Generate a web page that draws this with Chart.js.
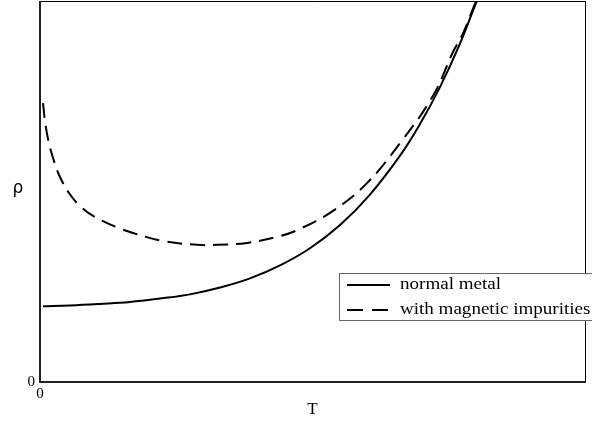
<!DOCTYPE html>
<html>
<head>
<meta charset="utf-8">
<script src="https://cdn.jsdelivr.net/npm/chart.js@4"></script>
<style>
    html, body { margin: 0; padding: 0; background: #fff; }
    #wrap { width: 592px; height: 426px; }
</style>
</head>
<body>
<div id="wrap"><canvas id="rhoChart" width="592" height="426"></canvas></div>
<script>
// values (T and rho in plot-relative units)
const tNormal = [0.0055, 0.0550, 0.1101, 0.1651, 0.2202, 0.2752, 0.3303, 0.3853, 0.4404, 0.4954, 0.5505, 0.6055, 0.6606, 0.6972, 0.7339, 0.7706, 0.8055, 0.8165];
const rhoNormal = [0.199, 0.201, 0.205, 0.210, 0.219, 0.230, 0.248, 0.272, 0.306, 0.351, 0.412, 0.492, 0.594, 0.677, 0.774, 0.888, 1.013, 1.040];

const tImpure = [0.0055, 0.0092, 0.0147, 0.0239, 0.0367, 0.0532, 0.0734, 0.1009, 0.1450, 0.1706, 0.2257, 0.2881, 0.3248, 0.3798, 0.4404, 0.4771, 0.5376, 0.6000, 0.6606, 0.7211, 0.7578, 0.7761, 0.8000, 0.8073];
const rhoImpure = [0.732, 0.685, 0.638, 0.588, 0.538, 0.496, 0.462, 0.433, 0.404, 0.391, 0.370, 0.360, 0.360, 0.365, 0.383, 0.402, 0.449, 0.522, 0.627, 0.751, 0.866, 0.915, 1.000, 1.024];

const seriesLabels = ['normal metal', 'with magnetic impurities'];
const xTicks = [0];
const yTicks = [0];
const xTitle = 'T';
const yTitle = 'ρ';

const serif = "'Liberation Serif', 'Times New Roman', serif";

function toPoints(xs, ys) {
    return xs.map((x, i) => ({ x: x, y: ys[i] }));
}

// keep the plot area flush with the canvas edges
function noPadding(scale) {
    scale.paddingTop = 0;
    scale.paddingBottom = 0;
    scale.paddingLeft = 0;
    scale.paddingRight = 0;
}

// frame, axis titles and legend box
const framePlugin = {
    id: 'frame',
    afterDatasetsDraw(chart) {
        const ctx = chart.ctx;
        const a = chart.chartArea;
        ctx.save();

        // box round the plot
        ctx.strokeStyle = '#000';
        ctx.lineWidth = 1;
        ctx.beginPath();
        ctx.moveTo(a.left, a.top + 0.5);
        ctx.lineTo(a.right + 0.5, a.top + 0.5);
        ctx.lineTo(a.right + 0.5, a.bottom);
        ctx.stroke();
        ctx.strokeStyle = '#222';
        ctx.lineWidth = 2;
        ctx.beginPath();
        ctx.moveTo(a.left, a.top);
        ctx.lineTo(a.left, a.bottom);
        ctx.lineTo(a.right + 1, a.bottom);
        ctx.stroke();

        // axis titles
        ctx.fillStyle = '#000';
        ctx.textAlign = 'center';
        ctx.textBaseline = 'middle';
        ctx.font = '17px ' + serif;
        ctx.fillText(xTitle, (a.left + a.right) / 2, 410);
        ctx.font = "17px 'DejaVu Sans', sans-serif";
        ctx.fillText(yTitle, 18, 189);

        // legend
        const lx = 339.5, ly = 273.5, lw = 270, lh = 47;
        ctx.fillStyle = '#fff';
        ctx.fillRect(lx, ly, lw, lh);
        ctx.strokeStyle = '#666';
        ctx.lineWidth = 1;
        ctx.strokeRect(lx, ly, lw, lh);

        const rows = [285, 310];
        chart.data.datasets.forEach((ds, i) => {
            const y = rows[i];
            ctx.strokeStyle = ds.borderColor;
            ctx.lineWidth = 2;
            ctx.setLineDash(i === 0 ? [] : [16, 9]);
            ctx.beginPath();
            ctx.moveTo(347, y);
            ctx.lineTo(390, y);
            ctx.stroke();
            ctx.setLineDash([]);

            ctx.save();
            ctx.translate(400, y);
            ctx.scale(1.19, 1);
            ctx.fillStyle = '#000';
            ctx.textAlign = 'left';
            ctx.textBaseline = 'middle';
            ctx.font = '16px ' + serif;
            ctx.fillText(ds.label, 0, 0);
            ctx.restore();
        });

        ctx.restore();
    }
};

const ctx = document.getElementById('rhoChart').getContext('2d');
new Chart(ctx, {
    type: 'line',
    data: {
        datasets: [
            {
                label: seriesLabels[0],
                data: toPoints(tNormal, rhoNormal),
                borderColor: '#000',
                borderWidth: 2,
                pointRadius: 0,
                tension: 0.4,
                clip: 0
            },
            {
                label: seriesLabels[1],
                data: toPoints(tImpure, rhoImpure),
                borderColor: '#000',
                borderWidth: 2,
                borderDash: [15, 8],
                pointRadius: 0,
                tension: 0.4,
                clip: 0
            }
        ]
    },
    options: {
        responsive: false,
        animation: false,
        layout: { padding: { top: 1, right: 7, left: 0, bottom: 0 } },
        plugins: {
            legend: { display: false },
            tooltip: { enabled: false }
        },
        scales: {
            x: {
                type: 'linear',
                min: 0,
                max: 1,
                afterFit(scale) { scale.height = 44; noPadding(scale); },
                afterBuildTicks(scale) { scale.ticks = xTicks.map(v => ({ value: v })); },
                grid: { display: false, drawTicks: false },
                border: { display: false },
                ticks: {
                    color: '#000',
                    padding: 3,
                    maxRotation: 0,
                    font: { family: serif, size: 15 }
                }
            },
            y: {
                type: 'linear',
                min: 0,
                max: 1,
                afterFit(scale) { scale.width = 40; noPadding(scale); },
                afterBuildTicks(scale) { scale.ticks = yTicks.map(v => ({ value: v })); },
                grid: { display: false, drawTicks: false },
                border: { display: false },
                ticks: {
                    color: '#000',
                    padding: 5,
                    font: { family: serif, size: 15 }
                }
            }
        }
    },
    plugins: [framePlugin]
});
</script>
</body>
</html>
